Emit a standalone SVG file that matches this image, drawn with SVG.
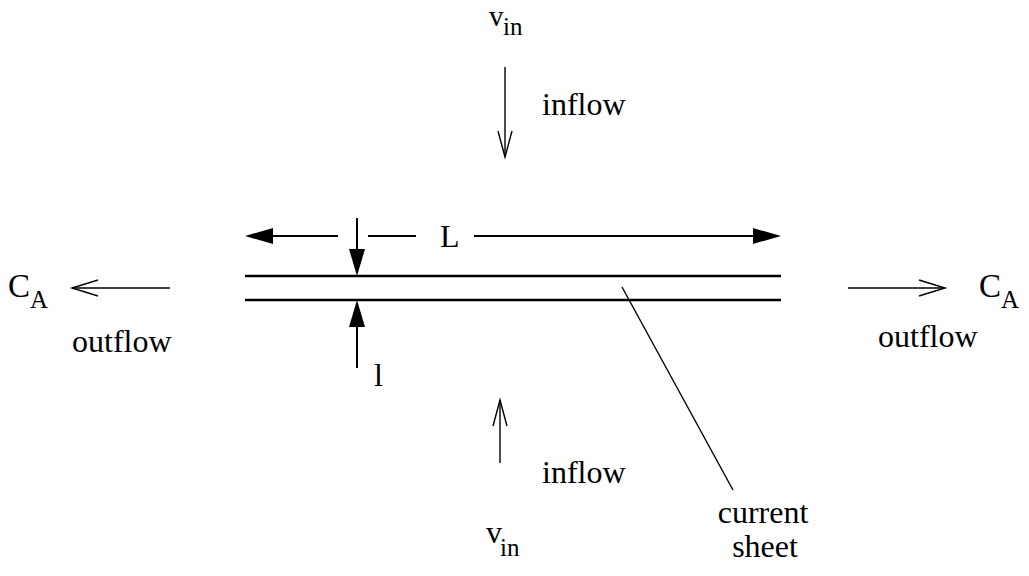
<svg xmlns="http://www.w3.org/2000/svg" width="1029" height="576" viewBox="0 0 1029 576">
<style>
text{font-family:"Liberation Serif","Times New Roman",serif;fill:#000;font-size:32px}
.sub{font-size:25px}
.big{font-size:33px}
.flow{stroke:#000;stroke-width:1.4;fill:none}
.dim{stroke:#000;stroke-width:2;fill:none}
.sheet{stroke:#000;stroke-width:2.5;fill:none}
.head{fill:#000;stroke:none}
</style>
<rect width="1029" height="576" fill="#fff"/>
<g id="sheet">
<line class="sheet" x1="245" y1="276" x2="781" y2="276"/>
<line class="sheet" x1="245" y1="300" x2="781" y2="300"/>
</g>
<g id="connectors">
<line class="flow" x1="505" y1="67" x2="505" y2="157"/>
<polyline class="flow" points="498,131 505,157 512,131"/>
<line class="flow" x1="500" y1="463" x2="500" y2="400"/>
<polyline class="flow" points="493,426 500,400 507,426"/>
<line class="flow" x1="170" y1="288" x2="72" y2="288"/>
<polyline class="flow" points="98,280 72,288 98,296"/>
<line class="flow" x1="848" y1="288" x2="945" y2="288"/>
<polyline class="flow" points="919,280 945,288 919,296"/>
<line class="dim" x1="270" y1="236" x2="338" y2="236"/>
<line class="dim" x1="368" y1="236" x2="416" y2="236"/>
<line class="dim" x1="474" y1="236" x2="756" y2="236"/>
<polygon class="head" points="245,236 273,228 273,244"/>
<polygon class="head" points="781,236 753,228 753,244"/>
<line class="dim" x1="357" y1="218" x2="357" y2="252"/>
<polygon class="head" points="357,276 349,249 365,249"/>
<line class="dim" x1="357" y1="324" x2="357" y2="368"/>
<polygon class="head" points="357,300 349,327 365,327"/>
<line class="flow" x1="622" y1="287" x2="733" y2="490"/>
</g>
<g id="vin-top"><text x="489" y="26" style="font-size:29px">v<tspan class="sub" x="503" y="35">in</tspan></text></g>
<g id="inflow-top"><text x="542" y="115">inflow</text></g>
<g id="vin-bottom"><text x="486" y="543">v<tspan class="sub" x="500" y="556">in</tspan></text></g>
<g id="inflow-bottom"><text x="542" y="483">inflow</text></g>
<g id="ca-left"><text class="big" x="8" y="297">C<tspan class="sub" x="30" y="308">A</tspan></text></g>
<g id="outflow-left"><text x="72" y="352">outflow</text></g>
<g id="ca-right"><text class="big" x="979" y="297">C<tspan class="sub" x="1001" y="308">A</tspan></text></g>
<g id="outflow-right"><text x="878" y="347">outflow</text></g>
<g id="L-label"><text x="440" y="247">L</text></g>
<g id="l-label"><text x="374" y="386">l</text></g>
<g id="current-sheet"><text x="763" y="523" text-anchor="middle">current</text><text x="765" y="557" text-anchor="middle">sheet</text></g>
</svg>
